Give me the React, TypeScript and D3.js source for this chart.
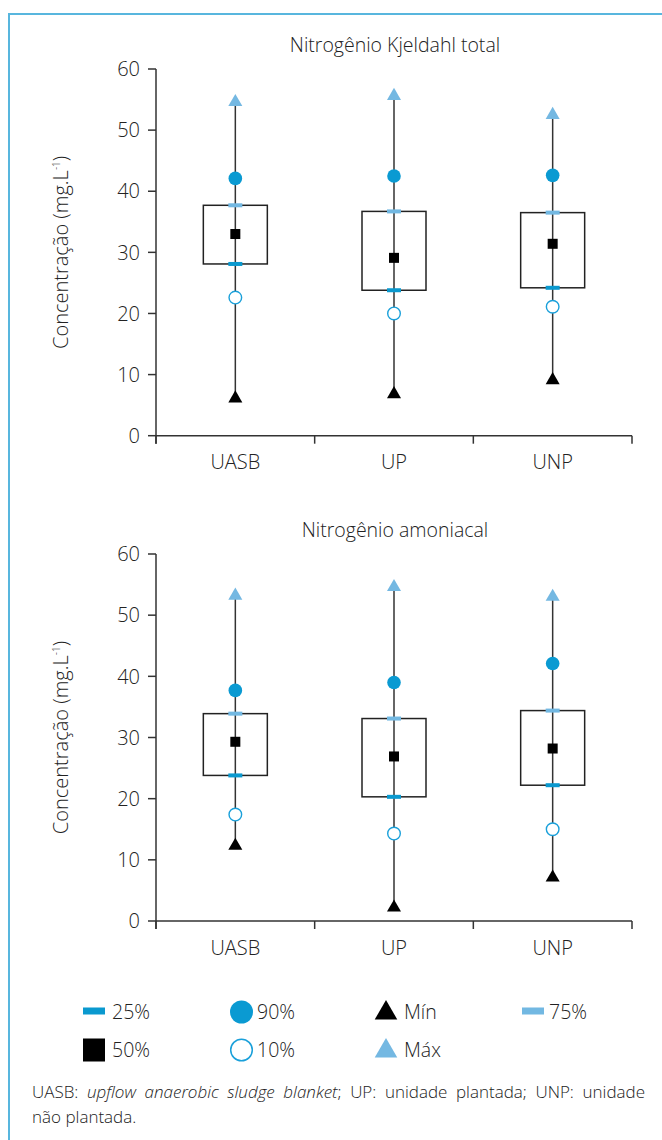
import React from "react";
import * as d3 from "d3";

const categories = ["UASB", "UP", "UNP"];
const yTicks = [0, 10, 20, 30, 40, 50, 60];

// Nitrogênio Kjeldahl total
const nktMin = [6.1, 6.8, 9.1];
const nktP10 = [22.6, 20.0, 21.1];
const nktP25 = [28.1, 23.8, 24.2];
const nktP50 = [33.0, 29.1, 31.4];
const nktP75 = [37.7, 36.7, 36.5];
const nktP90 = [42.1, 42.5, 42.6];
const nktMax = [54.6, 55.6, 52.5];

// Nitrogênio amoniacal
const amMin = [12.3, 2.2, 7.1];
const amP10 = [17.4, 14.3, 15.0];
const amP25 = [23.8, 20.3, 22.2];
const amP50 = [29.3, 26.9, 28.2];
const amP75 = [33.9, 33.1, 34.4];
const amP90 = [37.7, 39.0, 42.1];
const amMax = [53.2, 54.6, 53.0];

const FONT = "'Open Sans', Lato, sans-serif";
const FW = 300;
const C25 = "#0a99cf";
const C75 = "#72b8e2";
const C90 = "#0a9ad2";
const C10 = "#1aa0da";
const CMAX = "#74b8e2";

const panels = [
  { title: "Nitrogênio Kjeldahl total", top: 69, bottom: 435.7, min: nktMin, p10: nktP10, p25: nktP25, p50: nktP50, p75: nktP75, p90: nktP90, max: nktMax },
  { title: "Nitrogênio amoniacal", top: 554, bottom: 921, min: amMin, p10: amP10, p25: amP25, p50: amP50, p75: amP75, p90: amP90, max: amMax },
];

const tri = (area: number) => d3.symbol().type(d3.symbolTriangle).size(area)() as string;

function Panel({ p }: { p: typeof panels[number] }) {
  const x = d3.scaleBand<string>().domain(categories).range([156, 632]).padding(0);
  const y = d3.scaleLinear().domain([0, 60]).range([p.bottom, p.top]);
  const bw = 64;
  const mid = (p.top + p.bottom) / 2;
  return (
    <g>
      <text x={395} y={p.top - 17} textAnchor="middle" fontSize={19.5} fontFamily={FONT} fontWeight={FW} fill="#222">{p.title}</text>
      <line x1={156} x2={156} y1={y(60)} y2={y(0) + 8} stroke="#333" strokeWidth={1.5} />
      {yTicks.map((t) => (
        <g key={t}>
          <line x1={148} x2={156} y1={y(t)} y2={y(t)} stroke="#333" strokeWidth={1.5} />
          <text x={140} y={y(t)} dy="0.36em" textAnchor="end" fontSize={20} fontFamily={FONT} fontWeight={FW} fill="#222">{t}</text>
        </g>
      ))}
      <line x1={156} x2={632} y1={y(0)} y2={y(0)} stroke="#333" strokeWidth={1.5} />
      {[...categories.map((c) => x(c) as number), 632].map((v, i) => (
        <line key={i} x1={v} x2={v} y1={y(0)} y2={y(0) + 8} stroke="#333" strokeWidth={1.5} />
      ))}
      {categories.map((c) => (
        <text key={c} x={(x(c) as number) + x.bandwidth() / 2} y={y(0) + 33.5} textAnchor="middle" fontSize={20} fontFamily={FONT} fontWeight={FW} fill="#222">{c}</text>
      ))}
      <text transform={`translate(68,${mid}) rotate(-90)`} textAnchor="middle" fontSize={20} fontFamily={FONT} fontWeight={FW} fill="#222">
        Concentração (mg.L<tspan fontSize={10} dy={-8}>-1</tspan><tspan dy={8}>)</tspan>
      </text>
      {categories.map((c, i) => {
        const cx = (x(c) as number) + x.bandwidth() / 2;
        return (
          <g key={c}>
            <line x1={cx} x2={cx} y1={y(p.min[i])} y2={y(p.max[i])} stroke="#333" strokeWidth={1.5} />
            <rect x={cx - bw / 2} y={y(p.p75[i])} width={bw} height={y(p.p25[i]) - y(p.p75[i])} fill="none" stroke="#222" strokeWidth={1.5} />
            <rect x={cx - 7} y={y(p.p75[i]) - 2} width={14} height={4} fill={C75} />
            <rect x={cx - 7} y={y(p.p25[i]) - 2} width={14} height={4} fill={C25} />
            <rect x={cx - 5} y={y(p.p50[i]) - 5} width={10} height={10} fill="#000" />
            <circle cx={cx} cy={y(p.p90[i])} r={6.8} fill={C90} />
            <circle cx={cx} cy={y(p.p10[i])} r={6.3} fill="#fff" stroke={C10} strokeWidth={1.4} />
            <path d={tri(85)} transform={`translate(${cx},${y(p.max[i])})`} fill={CMAX} />
            <path d={tri(85)} transform={`translate(${cx},${y(p.min[i])})`} fill="#000" />
          </g>
        );
      })}
    </g>
  );
}

const legendRow1 = ["25%", "90%", "Mín", "75%"];
const legendRow2 = ["50%", "10%", "Máx"];
const footWords1 = ["UASB:", "upflow", "anaerobic", "sludge", "blanket;", "UP:", "unidade", "plantada;", "UNP:", "unidade"];
const footItalic = [false, true, true, true, true, false, false, false, false, false];

function Footnote() {
  const ref = React.useRef<SVGTextElement>(null);
  const [ws, setWs] = React.useState(0);
  React.useLayoutEffect(() => {
    if (ref.current) {
      const w = ref.current.getComputedTextLength();
      const target = 613;
      setWs(Math.max(0, (target - w) / (footWords1.length - 1)));
    }
  }, []);
  return (
    <g>
      <text ref={ref} x={32} y={1098} fontSize={17} fontFamily={FONT} fontWeight={FW} fill="#222" style={{ wordSpacing: ws ? `${ws}px` : undefined }}>
        {footWords1.map((w, i) => (
          <tspan key={i} fontStyle={footItalic[i] ? "italic" : "normal"}>{(i > 0 ? " " : "") + (w === "blanket;" ? "blanket" : w)}{w === "blanket;" ? <tspan fontStyle="normal">;</tspan> : null}</tspan>
        ))}
      </text>
      <text x={32} y={1123} fontSize={17} fontFamily={FONT} fontWeight={FW} fill="#222">não plantada.</text>
    </g>
  );
}

export default function App() {
  const lx = [94, 241.5, 386, 533];
  const tx = [112, 257, 404, 549];
  const r1 = 1011;
  const r2 = 1050;
  return (
    <svg width={662} height={1140} style={{ position: "absolute", left: 0, top: 0, background: "#fff" }}>
      <path d="M9,1140 V14 H662" fill="none" stroke="#58b6de" strokeWidth={2} />
      {panels.map((p) => <Panel key={p.title} p={p} />)}
      <rect x={lx[0] - 11} y={r1 - 3.5} width={22} height={7} fill={C25} />
      <circle cx={lx[1]} cy={r1 + 1} r={11.5} fill={C90} />
      <path d={tri(220)} transform={`translate(${lx[2]},${r1 + 2})`} fill="#000" />
      <rect x={lx[3] - 11} y={r1 - 3.5} width={22} height={7} fill={C75} />
      <rect x={lx[0] - 11} y={r2 - 11.5} width={22} height={23} fill="#000" />
      <circle cx={lx[1]} cy={r2} r={10.8} fill="#fff" stroke={C10} strokeWidth={1.5} />
      <path d={tri(220)} transform={`translate(${lx[2]},${r2 + 1})`} fill={CMAX} />
      {legendRow1.map((t, i) => (
        <text key={t} x={tx[i]} y={r1 + 1} dy="0.36em" fontSize={19.5} fontFamily={FONT} fontWeight={FW} fill="#222">{t}</text>
      ))}
      {legendRow2.map((t, i) => (
        <text key={t} x={tx[i]} y={r2} dy="0.36em" fontSize={19.5} fontFamily={FONT} fontWeight={FW} fill="#222">{t}</text>
      ))}
      <Footnote />
    </svg>
  );
}
